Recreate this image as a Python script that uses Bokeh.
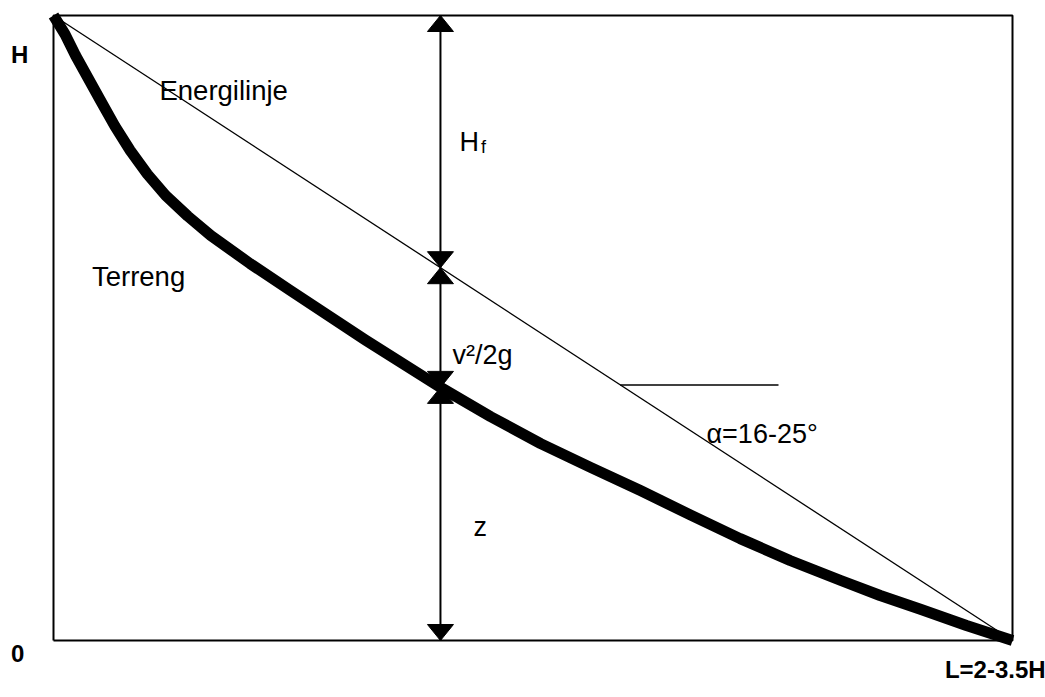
from bokeh.plotting import figure
from bokeh.models import Range1d
from bokeh.embed import file_html
from bokeh.resources import INLINE
from bokeh.core.properties import value

# Terrain profile (x in units of L, y in units of H)
terrain_x = [0.0, 0.012, 0.023, 0.036, 0.049, 0.064, 0.080, 0.098, 0.117, 0.140, 0.164, 0.205,
             0.247, 0.325, 0.4035, 0.456, 0.508, 0.560, 0.612, 0.664, 0.716, 0.768, 0.821,
             0.862, 0.904, 0.952, 1.0]
terrain_y = [1.0, 0.970, 0.936, 0.900, 0.864, 0.823, 0.784, 0.746, 0.712, 0.679, 0.648, 0.603,
             0.560, 0.481, 0.405, 0.358, 0.315, 0.277, 0.240, 0.201, 0.163, 0.128, 0.096,
             0.072, 0.050, 0.024, 0.0]

# Energy line
energy_x = [0.0, 1.0]
energy_y = [1.0, 0.0]

# Frame
frame_x = [0.0, 1.0, 1.0, 0.0, 0.0]
frame_y = [0.0, 0.0, 1.0, 1.0, 0.0]

# Dimension arrows at this x
arrow_x = 0.4035
arrow_levels = [1.0, 1.0 - arrow_x, 0.405, 0.0]

# Angle reference line
angle_x = [0.591, 0.756]
angle_y = [1.0 - 0.591, 1.0 - 0.591]

FONT = "Liberation Sans"

p = figure(width=1045, height=697, output_backend="svg", toolbar_location=None,
           x_range=Range1d(-0.05527, 1.03441), y_range=Range1d(-0.0912, 1.024),
           min_border=0, outline_line_color=None, background_fill_color="white")
p.xaxis.visible = False
p.yaxis.visible = False
p.grid.visible = False

p.line(frame_x, frame_y, line_color="black", line_width=2)
p.line(energy_x, energy_y, line_color="black", line_width=1.3)
p.line(angle_x, angle_y, line_color="black", line_width=1.5)
p.line(terrain_x, terrain_y, line_color="black", line_width=11, line_join="round", line_cap="butt")

# arrows
hw = 13 / 959
hl = 16 / 625
xs_heads, ys_heads = [], []
for top, bot in zip(arrow_levels[:-1], arrow_levels[1:]):
    p.line([arrow_x, arrow_x], [top, bot], line_color="black", line_width=2)
    xs_heads.append([arrow_x - hw, arrow_x, arrow_x + hw])
    ys_heads.append([top - hl, top, top - hl])
    xs_heads.append([arrow_x - hw, arrow_x, arrow_x + hw])
    ys_heads.append([bot + hl, bot, bot + hl])
p.patches(xs_heads, ys_heads, fill_color="black", line_color="black", line_width=1)

def label(x, y, t, size="27px", style="normal", align="left"):
    p.text(x=[x], y=[y], text=[t], text_font=value(FONT), text_font_size=size,
           text_font_style=style, text_align=align, text_baseline="alphabetic",
           text_color="black")

label(0.1105, 0.880, "Energilinje", size="27.5px")
label(0.0401, 0.582, "Terreng", size="27.5px")
label(0.4234, 0.797, "H")
label(0.4457, 0.790, "f", size="18px")
label(0.4161, 0.457, "v²/2g")
label(0.6809, 0.331, "α=16-25°")
label(0.438, 0.182, "z")
label(-0.0443, 0.937, "H", size="24px", style="bold")
label(-0.0443, -0.020, "0", size="24px", style="bold")
label(1.0345, -0.046, "L=2-3.5H", size="24px", style="bold", align="right")

open("out.html", "w").write(file_html(p, INLINE))
